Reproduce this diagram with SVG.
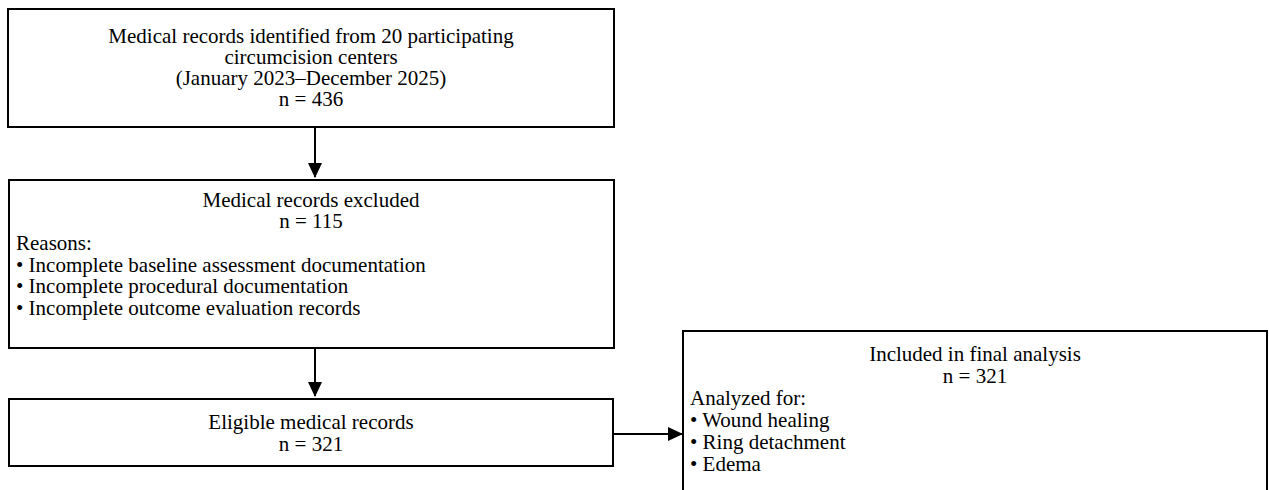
<svg xmlns="http://www.w3.org/2000/svg" width="1269" height="490" viewBox="0 0 1269 490">
<style>
.box{fill:#fff;stroke:#000;stroke-width:2}
.t{font-family:"Liberation Serif","Times New Roman",serif;font-size:21px;fill:#000}
.c{text-anchor:middle}
.ln{stroke:#000;stroke-width:2;fill:none}
</style>
<defs>
<marker id="ah" markerWidth="16" markerHeight="16" refX="14" refY="8" orient="auto" markerUnits="userSpaceOnUse">
<path d="M0,1 L15,8 L0,15 Z" fill="#000"/>
</marker>
</defs>
<rect width="1269" height="490" fill="#fff"/>
<g id="connectors">
<line class="ln" x1="315" y1="128" x2="315" y2="177" marker-end="url(#ah)"/>
<line class="ln" x1="315" y1="349" x2="315" y2="396" marker-end="url(#ah)"/>
<line class="ln" x1="609" y1="434" x2="682" y2="434" marker-end="url(#ah)"/>
</g>
<g id="n1">
<rect class="box" x="8" y="9" width="606" height="118"/>
<text class="t c" x="311" y="43">Medical records identified from 20 participating</text>
<text class="t c" x="311" y="64">circumcision centers</text>
<text class="t c" x="311" y="85">(January 2023–December 2025)</text>
<text class="t c" x="311" y="106">n = 436</text>
</g>
<g id="n2">
<rect class="box" x="9" y="180" width="605" height="168"/>
<text class="t c" x="311" y="207">Medical records excluded</text>
<text class="t c" x="311" y="228">n = 115</text>
<text class="t" x="16" y="250">Reasons:</text>
<text class="t" x="16" y="272">• Incomplete baseline assessment documentation</text>
<text class="t" x="16" y="293">• Incomplete procedural documentation</text>
<text class="t" x="16" y="315">• Incomplete outcome evaluation records</text>
</g>
<g id="n3">
<rect class="box" x="9" y="399" width="604" height="67"/>
<text class="t c" x="311" y="429">Eligible medical records</text>
<text class="t c" x="311" y="451">n = 321</text>
</g>
<g id="n4">
<rect class="box" x="683" y="331" width="584" height="170"/>
<text class="t c" x="975" y="361">Included in final analysis</text>
<text class="t c" x="975" y="383">n = 321</text>
<text class="t" x="690" y="405">Analyzed for:</text>
<text class="t" x="690" y="427">• Wound healing</text>
<text class="t" x="690" y="449">• Ring detachment</text>
<text class="t" x="690" y="471">• Edema</text>
</g>
</svg>
